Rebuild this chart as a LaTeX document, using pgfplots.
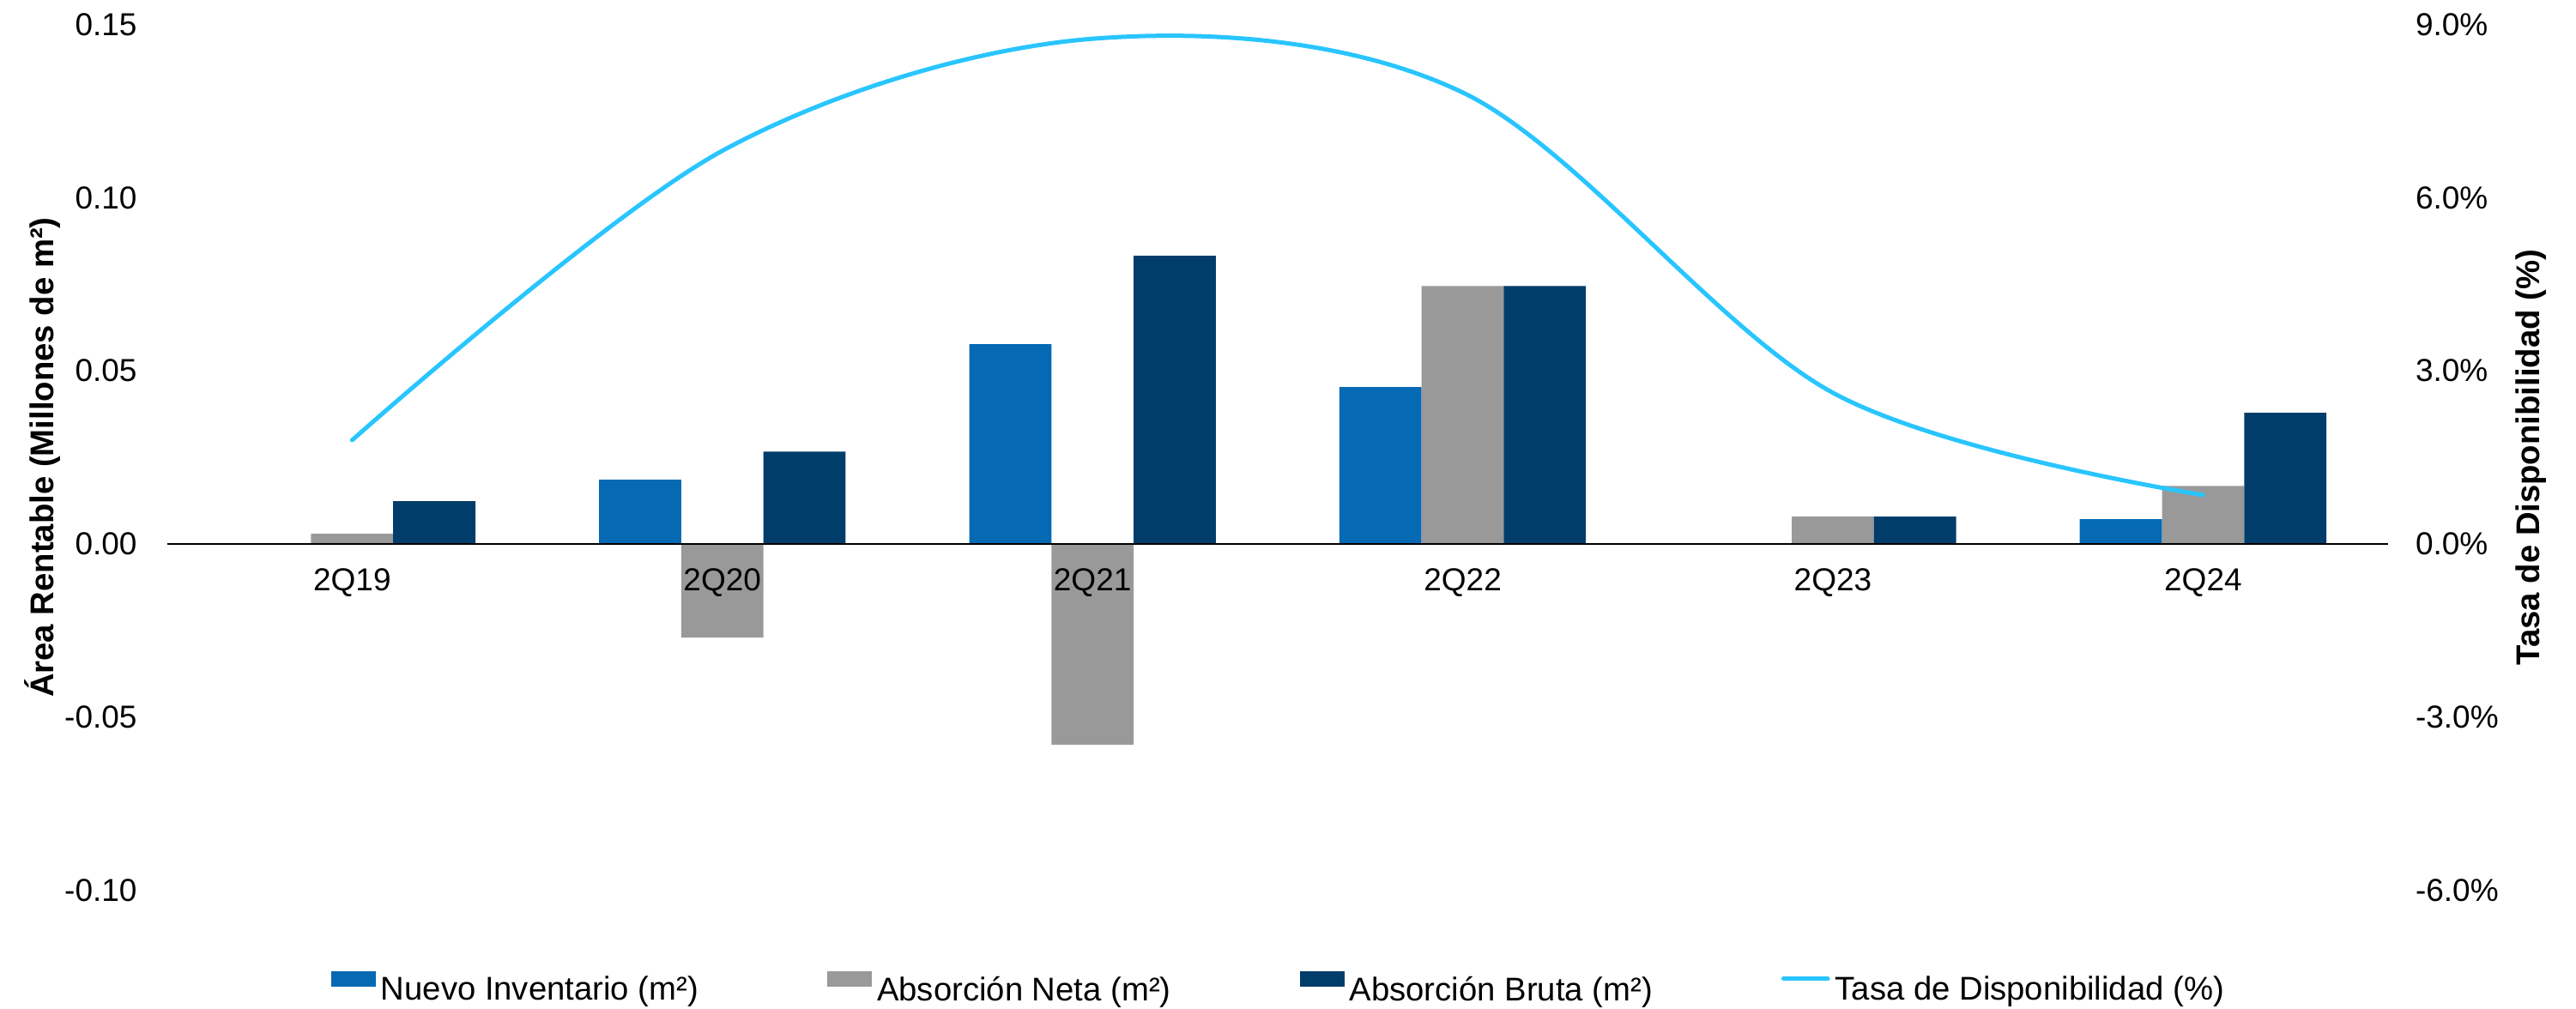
\documentclass[border=0pt]{standalone}
\usepackage{fontspec}
\setmainfont{Liberation Sans}
\usepackage{pgfplots}
\usepackage{pgfplotstable}
\pgfplotsset{compat=1.18}
\definecolor{cNuevo}{RGB}{5,105,180}
\definecolor{cNeta}{RGB}{153,153,153}
\definecolor{cBruta}{RGB}{0,61,107}
\definecolor{cTasa}{RGB}{41,197,255}

\pgfplotstableread{
x nuevo neta bruta tasa
0 0.0000 0.0030 0.0124 1.80
1 0.0186 -0.0270 0.0267 6.81
2 0.0577 -0.0579 0.0832 8.75
3 0.0453 0.0745 0.0745 7.82
4 0.0000 0.0079 0.0079 2.62
5 0.0072 0.0168 0.0379 0.85
}\datatable

\begin{document}
\begin{tikzpicture}
\pgfplotsset{
  common/.style={
    scale only axis, width=811.2pt, height=316.4pt,
    at={(0,0)}, anchor=south west,
    xmin=-0.5, xmax=5.5,
    /pgf/number format/assume math mode=true,
    tick style={draw=none},
    major tick length=0pt,
    hide obscured x ticks=false,
    hide obscured y ticks=false,
    tick label style={font=\fontsize{11.6}{13}\selectfont},
  },
  barleg/.style={legend image code/.code={\fill[#1] (0pt,1.3pt) rectangle (16.3pt,6.9pt);}},
}
\begin{axis}[common,
  axis on top,
  ymin=-0.10, ymax=0.15,
  ytick={-0.10,-0.05,0,0.05,0.10,0.15},
  axis x line=middle, axis y line=left,
  axis line style={-},
  x axis line style={black, line width=0.6pt},
  y axis line style={draw=none},
  xtick={0,1,2,3,4,5},
  xticklabels={2Q19,2Q20,2Q21,2Q22,2Q23,2Q24},
  xticklabel style={anchor=center, yshift=-14.1pt, inner sep=0pt},
  yticklabel style={anchor=east, inner sep=0pt, xshift=-10.8pt,
    /pgf/number format/.cd, fixed, fixed zerofill, precision=2},
  ylabel={Área Rentable (Millones de m²)},
  every axis y label/.style={at={(axis description cs:-0.0561,0.5)}, rotate=90, anchor=center,
    font=\fontsize{12}{14}\selectfont\bfseries},
  legend columns=4,
  legend cell align=left,
  legend style={at={(0.5,-0.1126)}, anchor=center, draw=none, fill=none,
    font=\fontsize{12}{14}\selectfont, inner sep=0pt,
    nodes={inner sep=0pt},
    /tikz/every even column/.append style={column sep=47pt},
    /tikz/every odd column/.append style={column sep=1.9pt}},
]
\addplot[ybar, bar width=0.222, bar shift=-0.222, fill=cNuevo, draw=none, barleg=cNuevo]
  table[x=x, y=nuevo]{\datatable};
\addlegendentry{Nuevo Inventario (m²)}
\addplot[ybar, bar width=0.222, bar shift=0, fill=cNeta, draw=none, barleg=cNeta]
  table[x=x, y=neta]{\datatable};
\addlegendentry{Absorción Neta (m²)}
\addplot[ybar, bar width=0.222, bar shift=0.222, fill=cBruta, draw=none, barleg=cBruta]
  table[x=x, y=bruta]{\datatable};
\addlegendentry{Absorción Bruta (m²)}
\addlegendimage{legend image code/.code={\draw[cTasa, line width=1.57pt, line cap=round] (0.8pt,4.3pt) -- (17pt,4.3pt);}}
\addlegendentry{Tasa de Disponibilidad (\%)}
\end{axis}
\begin{axis}[common,
  ymin=-6, ymax=9,
  ytick={-6,-3,0,3,6,9},
  axis x line=none, axis y line=right,
  axis line style={draw=none},
  yticklabel={\pgfmathprintnumber[fixed,fixed zerofill,precision=1]{\tick}\%},
  yticklabel style={anchor=west, inner sep=0pt, xshift=9.8pt},
  ylabel={Tasa de Disponibilidad (\%)},
  every axis y label/.style={at={(axis description cs:1.0645,0.5)}, rotate=90, anchor=center,
    font=\fontsize{12}{14}\selectfont\bfseries},
]
\addplot[cTasa, line width=1.57pt, smooth, tension=0.55, line cap=round]
  table[x=x, y=tasa]{\datatable};
\end{axis}
\pgfresetboundingbox
\path[use as bounding box] (-61.0pt,-43.0pt) rectangle (879.8pt,325.3pt);
\end{tikzpicture}
\end{document}
